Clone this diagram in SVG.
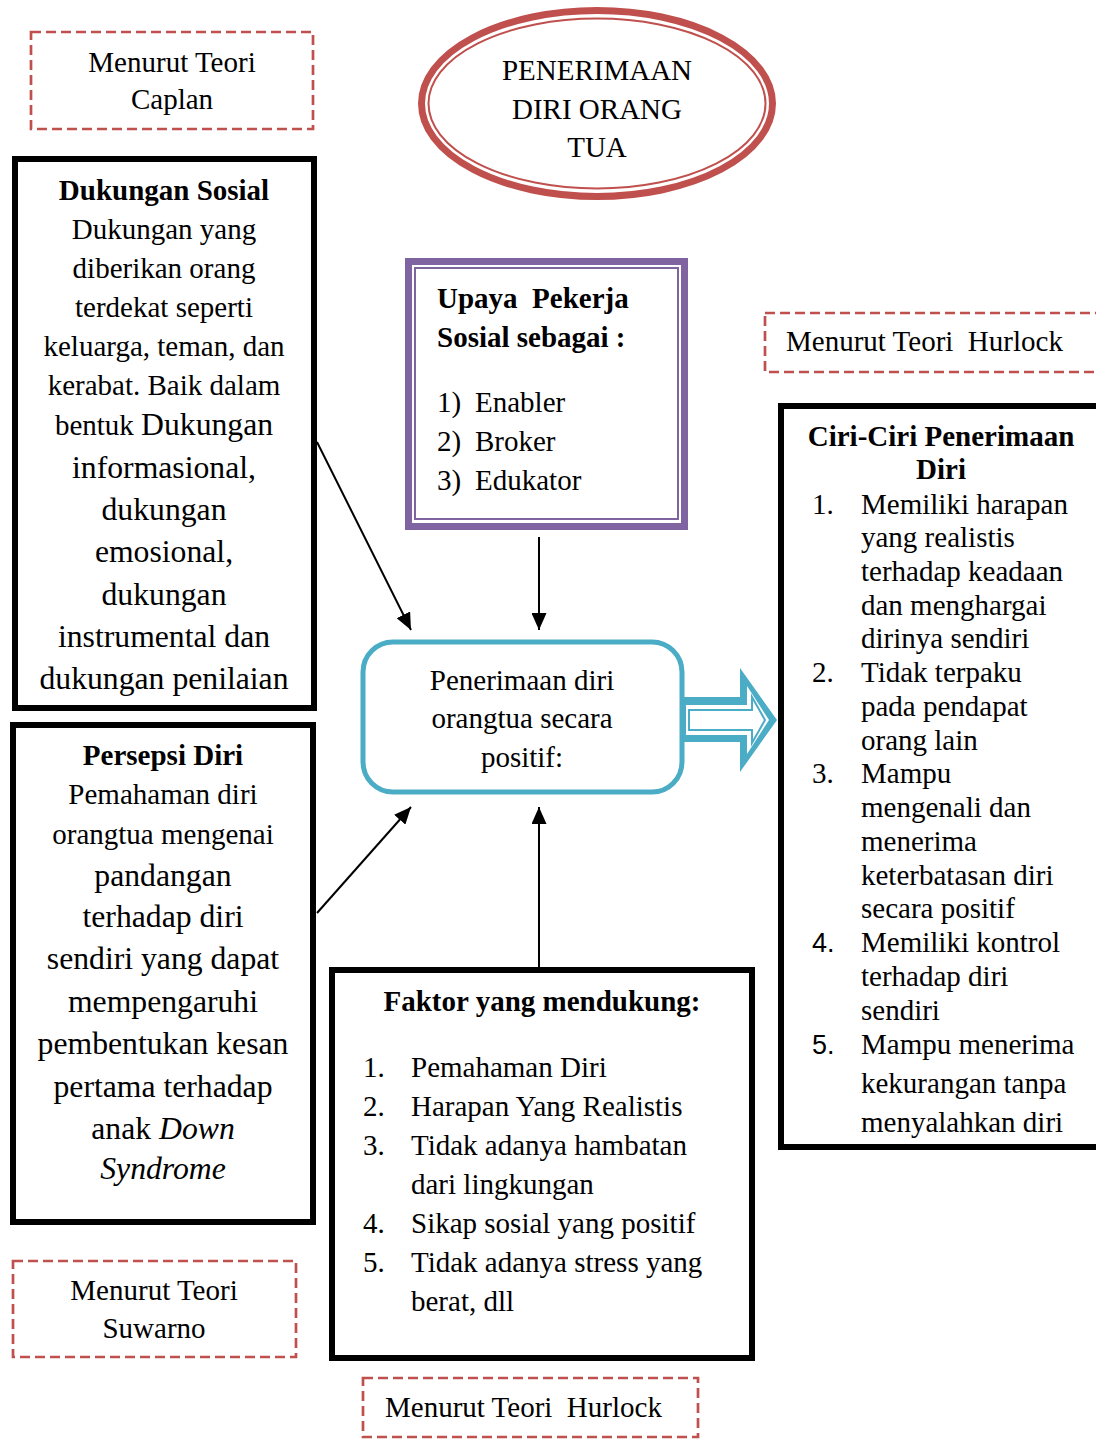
<svg xmlns="http://www.w3.org/2000/svg" width="1096" height="1439" viewBox="0 0 1096 1439">
<style>
text{font-family:"Liberation Serif","Times New Roman",serif;font-size:29px;fill:#000}
.b{font-weight:bold}
.c{text-anchor:middle}
.l{font-size:31.7px}
.sans{font-family:"Liberation Sans",Arial,sans-serif;font-size:27px}
.dash{fill:none;stroke:#c0504d;stroke-width:2.7;stroke-dasharray:10 5}
.box{fill:#fff;stroke:#000;stroke-width:6}
.conn{stroke:#000;stroke-width:2;fill:none}
</style>
<defs>
<marker id="ah" markerUnits="userSpaceOnUse" markerWidth="17" markerHeight="15" refX="17" refY="7.5" orient="auto">
<path d="M0,0 L17,7.5 L0,15 Z" fill="#000"/>
</marker>
</defs>
<rect width="1096" height="1439" fill="#fff"/>

<g id="caplan">
<rect class="dash" x="31" y="32" width="282" height="97"/>
<text class="c" x="172" y="72">Menurut Teori</text>
<text class="c" x="172" y="109">Caplan</text>
</g>

<g id="judul">
<ellipse cx="597" cy="103.5" rx="175.5" ry="93" fill="#fff" stroke="#c0504d" stroke-width="7"/>
<ellipse cx="597" cy="103.5" rx="168.5" ry="85" fill="none" stroke="#c0504d" stroke-width="2"/>
<text class="c" x="597" y="80">PENERIMAAN</text>
<text class="c" x="597" y="119">DIRI ORANG</text>
<text class="c" x="597" y="157">TUA</text>
</g>

<g id="dukungan">
<rect class="box" x="15" y="159" width="299" height="549"/>
<text class="c b" x="164" y="200">Dukungan Sosial</text>
<text class="c" x="164" y="239">Dukungan yang</text>
<text class="c" x="164" y="278">diberikan orang</text>
<text class="c" x="164" y="317">terdekat seperti</text>
<text class="c" x="164" y="356">keluarga, teman, dan</text>
<text class="c" x="164" y="395">kerabat. Baik dalam</text>
<text class="c" x="164" y="435">bentuk <tspan class="l">Dukungan</tspan></text>
<text class="c l" x="164" y="478">informasional,</text>
<text class="c l" x="164" y="520">dukungan</text>
<text class="c l" x="164" y="562">emosional,</text>
<text class="c l" x="164" y="605">dukungan</text>
<text class="c l" x="164" y="647">instrumental dan</text>
<text class="c l" x="164" y="689">dukungan penilaian</text>
</g>

<g id="persepsi">
<rect class="box" x="13" y="725" width="300" height="497"/>
<text class="c b" x="163" y="765">Persepsi Diri</text>
<text class="c" x="163" y="804">Pemahaman diri</text>
<text class="c" x="163" y="844">orangtua mengenai</text>
<text class="c l" x="163" y="886">pandangan</text>
<text class="c l" x="163" y="927">terhadap diri</text>
<text class="c l" x="163" y="969">sendiri yang dapat</text>
<text class="c l" x="163" y="1012">mempengaruhi</text>
<text class="c l" x="163" y="1054">pembentukan kesan</text>
<text class="c l" x="163" y="1097">pertama terhadap</text>
<text class="c l" x="163" y="1139">anak <tspan font-style="italic">Down</tspan></text>
<text class="c l" x="163" y="1179" font-style="italic">Syndrome</text>
</g>

<g id="suwarno">
<rect class="dash" x="13" y="1261" width="283" height="96"/>
<text class="c" x="154" y="1300">Menurut Teori</text>
<text class="c" x="154" y="1338">Suwarno</text>
</g>

<g id="upaya">
<rect x="408.5" y="261.5" width="276" height="265" fill="#fff" stroke="#8064a2" stroke-width="7"/>
<rect x="415" y="268" width="263" height="251" fill="none" stroke="#8064a2" stroke-width="2"/>
<text class="b" x="437" y="308" xml:space="preserve">Upaya  Pekerja</text>
<text class="b" x="437" y="347">Sosial sebagai :</text>
<text x="437" y="412">1)</text><text x="475" y="412">Enabler</text>
<text x="437" y="451">2)</text><text x="475" y="451">Broker</text>
<text x="437" y="490">3)</text><text x="475" y="490">Edukator</text>
</g>

<g id="hurlock1">
<rect class="dash" x="765" y="313" width="345" height="59"/>
<text x="786" y="351" xml:space="preserve">Menurut Teori  Hurlock</text>
</g>

<g id="penerimaan">
<rect x="363" y="642" width="319" height="150" rx="30" ry="30" fill="#fff" stroke="#4bacc6" stroke-width="5"/>
<text class="c" x="522" y="690">Penerimaan diri</text>
<text class="c" x="522" y="728">orangtua secara</text>
<text class="c" x="522" y="767">positif:</text>
</g>

<g id="panah-blok">
<path d="M681,697 L740,697 L740,668 L777,720 L740,772 L740,742 L681,742 Z" fill="#4bacc6"/>
<path d="M686,705 L747,705 L747,686 L769,720 L747,754 L747,735 L686,735 Z" fill="#fff"/>
<path d="M689,710 L752,710 L752,697 L765,720 L752,743 L752,730 L689,730 Z" fill="#fff" stroke="#4bacc6" stroke-width="2"/>
</g>

<g id="ciri">
<rect class="box" x="781" y="406" width="330" height="741"/>
<text class="c b" x="941" y="446">Ciri-Ciri Penerimaan</text>
<text class="c b" x="941" y="479">Diri</text>
<text x="812" y="514">1.</text><text x="861" y="514">Memiliki harapan</text>
<text x="861" y="547">yang realistis</text>
<text x="861" y="581">terhadap keadaan</text>
<text x="861" y="615">dan menghargai</text>
<text x="861" y="648">dirinya sendiri</text>
<text x="812" y="682">2.</text><text x="861" y="682">Tidak terpaku</text>
<text x="861" y="716">pada pendapat</text>
<text x="861" y="750">orang lain</text>
<text x="812" y="783">3.</text><text x="861" y="783">Mampu</text>
<text x="861" y="817">mengenali dan</text>
<text x="861" y="851">menerima</text>
<text x="861" y="885">keterbatasan diri</text>
<text x="861" y="918">secara positif</text>
<text class="sans" x="812" y="952">4.</text><text x="861" y="952">Memiliki kontrol</text>
<text x="861" y="986">terhadap diri</text>
<text x="861" y="1020">sendiri</text>
<text class="sans" x="812" y="1054">5.</text><text x="861" y="1054">Mampu menerima</text>
<text x="861" y="1093">kekurangan tanpa</text>
<text x="861" y="1132">menyalahkan diri</text>
</g>

<g id="faktor">
<rect class="box" x="332" y="970" width="420" height="388"/>
<text class="c b" x="542" y="1011">Faktor yang mendukung:</text>
<text x="363" y="1077">1.</text><text x="411" y="1077">Pemahaman Diri</text>
<text x="363" y="1116">2.</text><text x="411" y="1116">Harapan Yang Realistis</text>
<text x="363" y="1155">3.</text><text x="411" y="1155">Tidak adanya hambatan</text>
<text x="411" y="1194">dari lingkungan</text>
<text x="363" y="1233">4.</text><text x="411" y="1233">Sikap sosial yang positif</text>
<text x="363" y="1272">5.</text><text x="411" y="1272">Tidak adanya stress yang</text>
<text x="411" y="1311">berat, dll</text>
</g>

<g id="hurlock2">
<rect class="dash" x="363" y="1378" width="335" height="59"/>
<text x="385" y="1417" xml:space="preserve">Menurut Teori  Hurlock</text>
</g>

<g id="connectors">
<line class="conn" x1="317" y1="442" x2="411" y2="630" marker-end="url(#ah)"/>
<line class="conn" x1="539" y1="537" x2="539" y2="630" marker-end="url(#ah)"/>
<line class="conn" x1="317" y1="913" x2="411" y2="807" marker-end="url(#ah)"/>
<line class="conn" x1="539" y1="968" x2="539" y2="807" marker-end="url(#ah)"/>
</g>
</svg>
